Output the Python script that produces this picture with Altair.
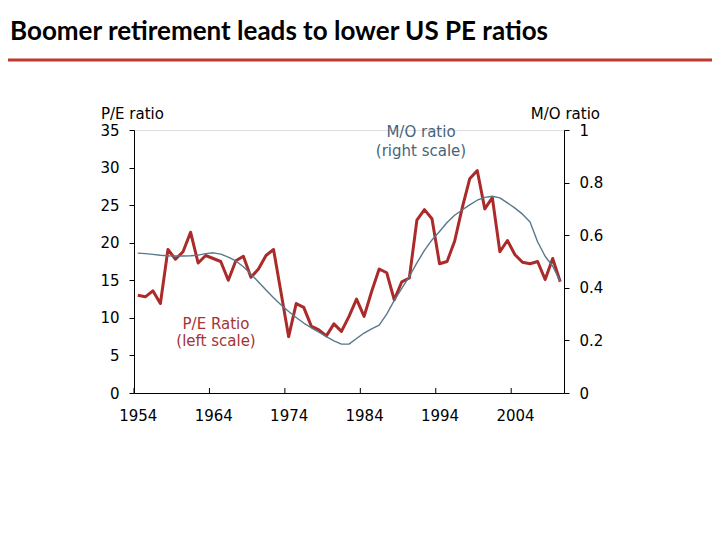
import altair as alt
import pandas as pd

# ---------------- data ----------------
years = list(range(1954, 2011))
pe_ratio = [13.0, 12.8, 13.6, 11.9, 19.1, 17.8, 18.8, 21.4, 17.3, 18.3,
            17.9, 17.5, 15.0, 17.6, 18.2, 15.4, 16.5, 18.3, 19.1, 13.3,
            7.5, 11.9, 11.4, 8.9, 8.4, 7.6, 9.2, 8.2, 10.2, 12.5,
            10.2, 13.5, 16.5, 16.0, 12.4, 14.8, 15.3, 23.0, 24.4, 23.2,
            17.2, 17.5, 20.2, 24.6, 28.5, 29.6, 24.5, 26.0, 18.8, 20.3,
            18.4, 17.4, 17.2, 17.5, 15.1, 17.9, 14.8]
mo_ratio = [0.532, 0.530, 0.527, 0.524, 0.522, 0.521, 0.521, 0.522, 0.524, 0.530,
            0.533, 0.528, 0.517, 0.502, 0.480, 0.452, 0.422, 0.392, 0.362, 0.335,
            0.310, 0.287, 0.266, 0.248, 0.231, 0.214, 0.198, 0.186, 0.186, 0.207,
            0.228, 0.244, 0.258, 0.300, 0.352, 0.398, 0.443, 0.495, 0.542, 0.582,
            0.614, 0.648, 0.676, 0.696, 0.715, 0.733, 0.744, 0.748, 0.742, 0.723,
            0.703, 0.680, 0.650, 0.575, 0.520, 0.482, 0.425]
decade_ticks = [1954, 1964, 1974, 1984, 1994, 2004]
pe_ticks = [0, 5, 10, 15, 20, 25, 30, 35]
mo_ticks = [0, 0.2, 0.4, 0.6, 0.8, 1]

title_text = "Boomer retirement leads to lower US PE ratios"
left_axis_title = "P/E ratio"
right_axis_title = "M/O ratio"
mo_note = ["M/O ratio", "(right scale)"]
pe_note = ["P/E Ratio", "(left scale)"]

# ---------------- styling ----------------
W, H = 430, 263
FONT = "DejaVu Sans"
RED = "#ab2a2a"
BLUE = "#56798a"

df = pd.DataFrame({"year": years, "pe": pe_ratio, "mo": mo_ratio})
one = pd.DataFrame({"k": [0]})

xscale = alt.Scale(domain=[1954, 2011], nice=False, zero=False)
xaxis = alt.Axis(values=decade_ticks, format="d", labelOffset=3.8, labelFlush=False,
                 ticks=False, domainColor="black", domainWidth=1, labelFont=FONT,
                 labelFontSize=15, labelColor="black", labelPadding=15, grid=False,
                 title=None)

base = alt.Chart(df).transform_calculate(xc="datum.year + 0.5")

pe_line = base.mark_line(color=RED, strokeWidth=3, strokeJoin="round").encode(
    x=alt.X("xc:Q", scale=xscale, axis=xaxis),
    y=alt.Y("pe:Q", scale=alt.Scale(domain=[0, 35], nice=False, zero=True),
            axis=alt.Axis(values=pe_ticks, orient="left", title=None, grid=False,
                          domainColor="black", tickColor="black", tickSize=5,
                          labelPadding=10, labelFont=FONT, labelFontSize=15,
                          labelColor="black")),
)

mo_line = base.mark_line(color=BLUE, strokeWidth=1.4, strokeJoin="round").encode(
    x=alt.X("xc:Q", scale=xscale, axis=xaxis),
    y=alt.Y("mo:Q", scale=alt.Scale(domain=[0, 1], nice=False, zero=True),
            axis=alt.Axis(values=mo_ticks, orient="right", title=None, grid=False,
                          format=".1~f", domainColor="black", tickColor="black",
                          tickSize=5, labelPadding=10, labelFont=FONT,
                          labelFontSize=15, labelColor="black")),
)

tick_rules = alt.Chart(pd.DataFrame({"t": decade_ticks})).mark_rule(
    color="black", strokeWidth=1).encode(
    x=alt.X("t:Q", scale=xscale, axis=xaxis),
    y=alt.value(H), y2=alt.value(H - 5))


def txt(s, x, y, align="center", color="black", size=15, weight="normal", font=FONT,
        baseline="middle"):
    return alt.Chart(one).mark_text(text=s, align=align, baseline=baseline, color=color,
                                    fontSize=size, fontWeight=weight, font=font).encode(
        x=alt.value(x), y=alt.value(y))


title = txt(title_text, -124, -90, align="left", size=26, weight="bold", font="Lato",
            baseline="alphabetic")
title_rule = alt.Chart(one).mark_rule(color="#c0392b", strokeWidth=3).encode(
    x=alt.value(-130), x2=alt.value(590), y=alt.value(-70))

lt = txt(left_axis_title, -33, -16, align="left")
rt = txt(right_axis_title, 466, -16, align="right")
mo1 = txt(mo_note[0], 287, 2, color="#46657a")
mo2 = txt(mo_note[1], 287, 21, color="#46657a")
pe1 = txt(pe_note[0], 82, 194, color="#a33434")
pe2 = txt(pe_note[1], 82, 211, color="#a33434")

chart = alt.layer(
    pe_line, mo_line, tick_rules, title, title_rule, lt, rt, mo1, mo2, pe1, pe2
).resolve_scale(y="independent").properties(
    width=W, height=H,
    autosize=alt.AutoSizeParams(type="none"),
    padding={"left": 126, "top": 122, "right": 148, "bottom": 139},
).configure_view(stroke=None).configure(background="white")

chart.save("out.html", embed_options={"renderer": "svg", "actions": False})
